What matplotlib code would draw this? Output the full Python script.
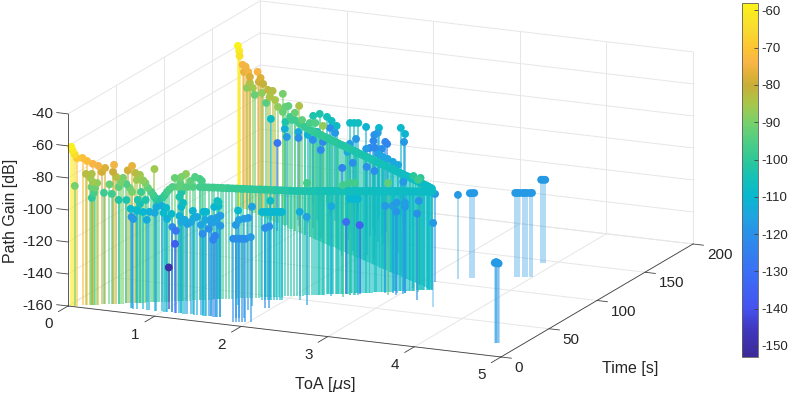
import numpy as np
import matplotlib
matplotlib.use('Agg')
import matplotlib.pyplot as plt
from matplotlib.colors import LinearSegmentedColormap, Normalize
from matplotlib.cm import ScalarMappable
from mpl_toolkits.mplot3d import proj3d
from mpl_toolkits.mplot3d.art3d import Line3DCollection

plt.rcParams['font.family'] = ['Liberation Sans', 'DejaVu Sans']

# rising branch, strongest paths first
ra_toa = [.03,.04,.06,.08,.13,.17,.22,.27,.33,.30,.41,.40,.43,.57,.53,.60,.64,.69,.71,.76,.79,.84,.88,.93,.98,1.06,1.11,.67,.74,.77,.81,.86,.90,1.02]
ra_time = [.7,1.2,1.7,2.2,3.4,4.5,6,7.2,8.9,8.1,11,10.8,11.5,15.3,14.4,16,17.2,18.4,19.2,20.3,21.3,22.5,23.7,24.9,26.3,28.5,29.9,18,19.9,20.8,21.9,23.1,24.2,27.4]
ra_gain = [-60.6,-63.1,-65.6,-68,-67.9,-69.9,-71.9,-73.3,-74.8,-77.2,-73.1,-77.5,-80.7,-74.3,-77,-78.7,-82,-85.3,-88.5,-93,-96.2,-95.1,-91.5,-88.5,-88.7,-89,-89.1,-83.7,-91,-94.5,-95.9,-93.5,-90,-88.8]
ra_level = [-59,-61,-64,-69,-71,-72,-74,-75,-78,-79,-75,-80,-83,-76,-79,-83,-87,-90,-93,-98,-102,-100,-97,-95,-93,-95,-95,-88,-96,-100,-101,-99,-96,-94]

# green paths under the rising branch
gr_toa = [.06,.16,.21,.20,.22,.26,.21,.24,.23,.21,.32,.37,.39,.45,.49,.47,.52,.55,.57,.61,.64,.65,.77,.45,.52,.62,.69,.64,.61,.95,1.01,1.05,1.09,1.13,1.17,1.19,1.0,1.01,.99,1.34,1.33,1.30,1.34]
gr_time = [1.7,4.3,5.8,5.3,6,6.9,5.5,6.5,6.2,5.8,8.6,9.8,10.5,12.2,13.2,12.7,13.9,14.8,15.3,16.5,17.2,17.5,20.6,12.2,13.9,16.8,18.7,17.2,16.3,25.6,27,28.2,29.2,30.4,31.6,32.1,26.8,27.3,26.8,35.9,35.6,35,36]
gr_gain = [-85.2,-78,-78.2,-80.6,-83.2,-84,-86.3,-87,-90.1,-93.2,-90.3,-85.1,-91.2,-87.1,-81.5,-84,-85.4,-88,-90.5,-83.2,-80.1,-90.8,-76.8,-95.2,-95.4,-95.7,-96,-98.3,-101.9,-83,-82.5,-80.8,-85.3,-82.9,-84.3,-85.6,-86.3,-92,-95,-99.2,-98.5,-102.2,-101.7]
gr_level = [-90,-83,-84,-86,-86,-88,-92,-92,-96,-100,-98,-92,-98,-93,-90,-90,-95,-91,-90,-86,-86,-98,-86,-102,-103,-103,-103,-105,-107,-92,-90,-88,-93,-95,-96,-96,-93,-103,-103,-105,-107,-110,-109]

# flat part of the rising branch
flat_toa = [1.17,1.20,1.22,1.25,1.28,1.30,1.33,1.36,1.38,1.41,1.43,1.46,1.49,1.51,1.54,1.56,1.59,1.62,1.64,1.67,
            1.70,1.72,1.75,1.77,1.80,1.83,1.85,1.88,1.90,1.93,1.96,1.98,2.01,2.04,2.06,2.09,2.11,2.14,2.17,2.19,
            2.22,2.24,2.27,2.30,2.32,2.35,2.38,2.40,2.43,2.45,2.48,2.51,2.53,2.56,2.58,2.61,2.64,2.66,2.69,2.72,
            2.74,2.77,2.79,2.82,2.85,2.87,2.90,2.92,2.95,2.98,3.00,3.03,3.06,3.08,3.11,3.13,3.16,3.19,3.21,3.24]
flat_time = [31.5,32.3,32.8,33.6,34.4,35.0,35.8,36.6,37.1,37.9,38.5,39.3,40.1,40.6,41.4,42.0,42.8,43.6,44.1,44.9,
             45.7,46.3,47.1,47.6,48.4,49.2,49.8,50.6,51.1,51.9,52.7,53.3,54.1,54.9,55.4,56.2,56.8,57.6,58.4,58.9,
             59.7,60.3,61.1,61.9,62.4,63.2,64.0,64.6,65.4,65.9,66.7,67.5,68.1,68.9,69.4,70.2,71.0,71.6,72.4,73.2,
             73.7,74.5,75.1,75.9,76.7,77.2,78.0,78.5,79.4,80.2,80.7,81.5,82.3,82.9,83.7,84.2,85.0,85.8,86.3,87.2]
flat_gain = [-89.3,-89.5,-89.6,-89.8,-90.0,-90.1,-90.3,-90.5,-90.6,-90.8,-90.9,-91.1,-91.3,-91.4,-91.6,-91.7,-91.9,-92.1,-92.2,-92.4,
             -92.5,-92.6,-92.8,-92.9,-93.1,-93.3,-93.4,-93.6,-93.7,-93.9,-94.1,-94.2,-94.4,-94.5,-94.6,-94.7,-94.8,-94.9,-95.0,-95.1,
             -95.2,-95.2,-95.3,-95.4,-95.5,-95.6,-95.7,-95.8,-95.9,-95.9,-96.0,-96.1,-96.2,-96.3,-96.4,-96.5,-96.6,-96.6,-96.7,-96.8,
             -96.9,-97.0,-97.1,-97.2,-97.3,-97.3,-97.4,-97.5,-97.6,-97.7,-97.8,-97.9,-98.0,-98.1,-98.2,-98.3,-98.4,-98.5,-98.7,-98.9]
flat_level = [-97,-97,-97,-97,-98,-98,-98,-98,-98,-99,-99,-99,-99,-99,-100,-100,-100,-100,-100,-100,
              -101,-101,-101,-101,-101,-102,-102,-102,-102,-102,-103,-103,-103,-103,-103,-103,-104,-104,-104,-104,
              -104,-104,-105,-105,-105,-105,-105,-105,-105,-106,-106,-106,-106,-106,-106,-106,-107,-107,-107,-107,
              -107,-107,-107,-107,-107,-107,-108,-108,-108,-108,-108,-108,-108,-108,-108,-108,-108,-108,-108,-108]

# the dense end of the flat part
dense_toa = [2.21,2.23,2.26,2.28,2.31,2.34,2.36,2.39,2.41,2.44,2.47,2.49,2.52,2.55,2.57,2.60,2.62,2.65,2.68,2.70,
             2.73,2.75,2.78,2.81,2.83,2.86,2.89,2.91,2.94,2.96,2.99,3.02,3.04,3.07,3.10,3.12,3.15,3.17,3.20,3.22]
dense_time = [59.4,60,60.8,61.3,62.1,62.9,63.5,64.3,64.8,65.6,66.4,67,67.8,68.6,69.1,69.9,70.5,71.3,72.1,72.6,
              73.4,74,74.8,75.6,76.1,76.9,77.7,78.3,79.1,79.6,80.4,81.2,81.8,82.6,83.4,83.9,84.7,85.3,86.1,86.6]
dense_gain = [-95.1,-95.2,-95.3,-95.3,-95.4,-95.5,-95.6,-95.7,-95.8,-95.9,-96,-96,-96.1,-96.2,-96.3,-96.4,-96.5,-96.6,-96.6,-96.7,
              -96.8,-96.9,-97,-97.1,-97.2,-97.3,-97.4,-97.4,-97.5,-97.6,-97.7,-97.8,-98,-98.1,-98.2,-98.3,-98.3,-98.4,-98.6,-98.8]
dense_level = [-105,-105,-105,-105,-105,-105,-105,-105,-105,-105,-106,-106,-106,-106,-106,-106,-106,-106,-106,-106,
               -107,-107,-107,-107,-107,-107,-107,-107,-107,-107,-108,-108,-108,-108,-108,-108,-108,-108,-108,-108]

# falling branch, second pass
rb_toa = [0,.02,.03,.08,.13,.17,.10,.20,.33,.38,.35,.42,.20,.15,.25,.28,.40,.50,.58,.53,.62,.47,.75,.67,.75,.84,.79,1.02,.95,.90,1.07,.79,1.20,1.12,.55,1.29,1.42,.87,.95,1.03,1.12]
rb_time = [177,176.5,176,174.7,173.3,172.4,174.2,171.4,167.7,166.3,167.2,165.4,171.4,172.8,170,169.1,165.9,163.1,160.8,162.2,159.8,164,156.1,158.4,156.1,153.8,155.2,148.7,150.5,151.9,147.3,155.2,143.6,145.9,161.7,141.3,137.6,152.8,150.6,148.4,145.9]
rb_gain = [-60,-62.9,-65.7,-70.5,-70.9,-73.6,-74.6,-76.1,-70.8,-73.8,-76.8,-77,-79.9,-83.8,-82.2,-86,-82.9,-79.4,-78.7,-83.3,-83.8,-88,-77.8,-87.3,-89.1,-84,-85.4,-81,-86.4,-91.6,-89,-94.8,-88.7,-92.5,-96.7,-87.3,-87,-90.3,-90.9,-92.1,-92.5]
rb_level = [-58,-60,-63,-74,-75,-75,-76,-78,-74,-78,-79,-81,-84,-88,-86,-92,-88,-82,-83,-84,-85,-94,-90,-88,-92,-93,-92,-84,-92,-97,-93,-103,-96,-100,-108,-95,-87,-97,-98,-98,-99]

cb_toa = [1.20,1.24,1.30,1.35,1.39,1.45,1.50,1.54,1.60,1.65,1.69,1.75,1.80,1.84,1.90,1.95,1.99,2.05,2.10,2.14,2.20,
          2.25,2.29,2.35,2.40,2.44,2.50,2.55,2.59,2.65,2.70,2.74,2.80,2.85,2.89,2.95,3.00,3.04,3.10,3.15,3.19,3.24,
          1.27,1.33,1.37,1.42,1.48,1.52,1.57,1.63,1.67,1.72,1.78,1.82,1.87,1.93,1.97,2.02,2.08,2.12,2.17,2.23,
          2.27,2.32,2.38,2.42,2.47,2.53,2.57,2.62,2.68,2.72,2.77,2.83,2.87,2.92,2.98,3.02,3.07,3.13,3.17,3.22]
cb_time = [143.6,142.5,140.9,139.5,138.4,136.7,135.3,134.2,132.5,131.1,130.0,128.4,127.0,125.8,124.2,122.8,121.7,120.0,118.6,117.5,115.8,
           114.5,113.3,111.7,110.3,109.2,107.5,106.1,105.0,103.3,101.9,100.8,99.2,97.8,96.7,95.0,93.6,92.5,90.8,89.4,88.3,86.9,
           141.7,140,138.9,137.5,135.9,134.7,133.4,131.7,130.6,129.2,127.5,126.4,125,123.3,122.2,120.8,119.2,118.1,116.7,115,
           113.9,112.5,110.8,109.7,108.3,106.7,105.6,104.2,102.5,101.4,100,98.3,97.2,95.8,94.2,93,91.7,90,88.9,87.5]
cb_gain = [-93.0,-93.1,-93.2,-93.3,-93.3,-93.4,-93.5,-93.6,-93.7,-93.8,-93.9,-93.9,-94.0,-94.1,-94.2,-94.3,-94.4,-94.5,-94.5,-94.6,-94.7,
           -94.8,-94.9,-95.0,-95.1,-95.1,-95.2,-95.3,-95.4,-95.5,-95.6,-95.7,-95.7,-95.8,-95.9,-96.0,-96.1,-96.2,-96.3,-96.4,-96.5,-96.7,
           -93.1,-93.2,-93.3,-93.4,-93.4,-93.5,-93.6,-93.7,-93.8,-93.9,-93.9,-94,-94.1,-94.2,-94.3,-94.4,-94.5,-94.5,-94.6,-94.7,
           -94.8,-94.9,-95,-95.1,-95.1,-95.2,-95.3,-95.4,-95.5,-95.6,-95.7,-95.7,-95.8,-95.9,-96,-96.1,-96.2,-96.3,-96.4,-96.6]
cb_level = [-99,-99,-99,-100,-100,-100,-100,-101,-101,-101,-101,-102,-102,-102,-102,-103,-103,-103,-103,-104,-104,
            -104,-104,-105,-105,-105,-105,-106,-106,-106,-106,-106,-107,-107,-107,-107,-107,-108,-108,-108,-108,-108,
            -99,-100,-100,-100,-100,-101,-101,-101,-101,-102,-102,-102,-102,-103,-103,-103,-103,-104,-104,-104,
            -104,-105,-105,-105,-105,-106,-106,-106,-106,-106,-107,-107,-107,-107,-107,-108,-108,-108,-108,-108]

# scattered paths behind the falling branch
rear_toa = [1.16,1.20,1.24,1.38,1.52,1.59,1.59,1.73,1.87,1.99,1.68,1.81,1.86,1.48,1.89,1.81,1.76,1.74,1.50,1.61,1.84,1.82,2.04,2.18,1.18,1.21,1.32,2.03,2.11,2.21,1.94,2.31,.69,.72,.84,.95,1.08,.63,.81,.95,.99,1.05,.79,.78,.91,1.08]
rear_time = [189.1,189.8,190.5,186,186.8,179.2,175.6,190.6,182.4,170.5,166.6,167.2,164.6,166.5,156.3,156.6,155.8,153.6,158.2,145.9,130.6,121.4,127.1,122.5,171.8,156.4,144.2,144.7,142.6,139.1,148.2,135.5,193.1,197.2,194,188.9,182.4,169,166.9,164.1,170.2,178.3,146.9,157.5,158,157.6]
rear_gain = [-105,-105,-105,-105,-105,-105,-105,-105,-105,-105,-105,-105,-105,-105,-105,-105,-105,-105,-105,-105,-105,-105,-105,-105,-105,-105,-105,-105,-105,-105,-105,-105,-105,-105,-105,-105,-105,-105,-105,-105,-105,-105,-105,-105,-105,-105]
rear_level = [-107,-107,-107,-112,-109,-116,-119,-109,-111,-118,-122,-123,-123,-118,-120,-122,-123,-117,-117,-114,-120,-124,-120,-120,-118,-122,-122,-115,-115,-114,-115,-114,-103,-103,-105,-107,-108,-112,-114,-112,-114,-120,-128,-118,-120,-120]

# scattered paths in front of the rising branch
front_toa = [.64,.71,.65,.67,.82,.78,.85,.93,.91,.99,1.04,1.01,1.10,1.05,1.11,1.15,1.14,1.02,1.21,1.23,1.19,1.21,1.28,1.34,1.35,1.39,1.46,1.49,1.43,1.48,1.55,1.65,1.60,1.65,1.45,1.52,1.59,1.57,1.25,1.32,1.55,1.61,
             1.77,1.80,1.83,1.86,1.88,1.91,1.94,1.96,1.85,2.53,2.57,2.61,2.84,2.91,2.98,2.95,3.03,3.03,1.62,1.77,1.80,1.84,1.81,1.89,1.93,1.97,1.85,1.88,1.91,1.94,1.97,2.02,2.13,2.28,2.37,2.48,2.61,
             2.50,2.53,2.58,2.90,3.03,3.13,3.14,3.03,2.12]
front_time = [7.6,7.7,7.6,7.6,8,7.9,8.1,8.2,8.2,8.4,8.5,8.4,8.6,8.5,8.6,8.7,8.7,13,8.9,8.9,8.8,8.9,9,9.2,9.2,9.3,9.4,9.5,9.4,9.5,9.6,9.9,9.7,9.9,9.4,9.6,9.7,9.6,8.9,9.1,9.6,9.8,
              42.5,43.1,43.6,44.1,44.6,45.2,45.7,46,43.9,65.2,65.9,66.6,74.3,75.7,73.2,76.3,77.7,77.7,31,32,25.4,12,11.5,12.9,31.2,31.9,5.1,5.6,6.1,6.6,7.1,8.2,49.2,43,60.5,66,68.4,
              61,65.2,66.1,71.8,86.5,84.9,81.5,75.9,57.7]
front_gain = [-97.9,-98.8,-102.9,-104.1,-103.8,-99.1,-98.6,-95.1,-98.9,-94.1,-95.1,-98.4,-98.5,-101.9,-106.6,-108.8,-117,-134,-93.5,-90.9,-99.3,-102.9,-103.8,-95.3,-99.6,-98.8,-95.2,-95.1,-103.5,-100.1,-99.1,-96.6,-100.7,-102.9,-109,-105.5,-109.5,-112,-101.4,-102.3,-101.6,-98.1,
              -105,-105,-105,-105,-105,-105,-105,-105,-98,-100,-100,-100,-105.6,-105.6,-108,-103.6,-103.6,-106,-101,-98,-102.5,-98.8,-101.9,-98,-110,-109,-108,-108,-108,-108,-108,-107,-105,-105,-104,-115,-117,
              -90,-90,-90,-90,-90,-90,-90,-90,-90]
front_level = [-109,-109,-118,-118,-113,-110,-112,-113,-114,-113,-109,-109,-109,-112,-122,-128,-137,-150,-110,-108,-112,-114,-116,-111,-113,-114,-110,-110,-115,-114,-116,-117,-116,-118,-120,-120,-124,-124,-114,-115,-117,-116,
               -110,-110,-110,-110,-110,-110,-110,-110,-108,-110,-110,-110,-118,-117,-119,-118,-117,-118,-109,-116,-118,-116,-118,-117,-120,-120,-120,-120,-120,-120,-120,-118,-113,-116,-114,-131,-135,
               -97,-97,-97,-93,-101,-101,-98,-118,-97]

# isolated late paths
far_toa = [3.14,3.53,3.26,3.03,3.31,3.41,3.43,3.45,3.83,3.85,3.87,3.90,3.92,3.94,3.97,3.99,3.85,3.87,3.89,4.71,4.72,4.73,4.74,4.75,4.73]
far_time = [99.1,61.9,69.5,92,107.6,111,111.5,112,120.4,120.8,121.1,121.7,122,122.4,122.9,123.4,145.6,145.9,146.2,19.7,19.8,19.9,20,20.1,19.6]
far_gain = [-105,-107.5,-106,-107.5,-107.5,-107,-107,-107,-107.5,-107.5,-107.5,-107.5,-107.5,-107.5,-107.5,-107.5,-108,-108,-108,-110,-109.7,-110,-110,-110.3,-109.4]
far_level = [-118,-118,-120,-119,-118,-118,-118,-118,-118,-118,-118,-118,-118,-118,-118,-118,-118,-118,-118,-118,-118,-118,-118,-118,-118]

toa_ticks = [0, 1, 2, 3, 4, 5]
time_ticks = [0, 50, 100, 150, 200]
gain_ticks = [-160, -140, -120, -100, -80, -60, -40]
bar_ticks = [-60, -70, -80, -90, -100, -110, -120, -130, -140, -150]

toa = np.array(ra_toa + gr_toa + flat_toa + dense_toa + rb_toa + cb_toa + rear_toa + front_toa + far_toa)
time = np.array(ra_time + gr_time + flat_time + dense_time + rb_time + cb_time + rear_time + front_time + far_time)
gain = np.array(ra_gain + gr_gain + flat_gain + dense_gain + rb_gain + cb_gain + rear_gain + front_gain + far_gain)
level = np.array(ra_level + gr_level + flat_level + dense_level + rb_level + cb_level + rear_level + front_level + far_level)

# colours
cmap = LinearSegmentedColormap.from_list('bar', [
    (0.00, '#3b2a98'), (0.08, '#4038c0'), (0.137, '#4553f0'), (0.242, '#3b70f5'),
    (0.347, '#2a90e8'), (0.40, '#1fa5e0'), (0.453, '#08b8cf'), (0.505, '#14c0b8'),
    (0.558, '#2fc898'), (0.611, '#4fce84'), (0.663, '#78d06c'), (0.716, '#a8c74a'),
    (0.768, '#c8ae38'), (0.80, '#e0b038'), (0.832, '#f8b545'), (0.874, '#fcc433'),
    (0.926, '#f9da30'), (1.00, '#fbf21a')])
norm = Normalize(-153, -58)

W, H = 789, 394
fig = plt.figure(figsize=(W / 100, H / 100), dpi=100)
ax = fig.add_axes([0.25, 0, 400 / W, 400 / H], projection='3d', computed_zorder=False)
ax.set_proj_type('ortho')
ax.view_init(elev=15.26, azim=-65.9)
ax.set_box_aspect((474, 470, 199))
ax.set_xlim(0, 5, view_margin=0)
ax.set_ylim(0, 200, view_margin=0)
ax.set_zlim(-160, -40, view_margin=0)
ax.set_axis_off()

# place the box so that its corners land where they are in the chart
def to_px(x, y, z):
    px, py, _ = proj3d.proj_transform(x, y, z, ax.get_proj())
    return ax.transData.transform((px, py))

ax.apply_aspect()
a = to_px(0, 0, -160)
c = to_px(5, 200, -160)
s = (693 - 68) / (c[0] - a[0])
bb = ax.get_position()
cx, cy = (bb.x0 + bb.width / 2) * W, (bb.y0 + bb.height / 2) * H
new_cx = 68 - s * (a[0] - cx)
new_cy = (H - 306) - s * (a[1] - cy)
side = 400 * s
ax.set_position([(new_cx - side / 2) / W, (new_cy - side / 2) / H, side / W, side / H])
ax.apply_aspect()

grid = dict(color='#e6e6e6', lw=0.7, zorder=1)
dark = dict(color='#404040', lw=0.6, zorder=4)
# floor
for v in toa_ticks:
    ax.plot([v, v], [0, 200], [-160, -160], **grid)
for v in time_ticks:
    ax.plot([0, 5], [v, v], [-160, -160], **grid)
# left and back walls
for v in gain_ticks:
    ax.plot([0, 0], [0, 200], [v, v], **grid)
    ax.plot([0, 5], [200, 200], [v, v], **grid)
for v in time_ticks:
    ax.plot([0, 0], [v, v], [-160, -40], **grid)
for v in toa_ticks:
    ax.plot([v, v], [200, 200], [-160, -40], **grid)

# axis lines and ticks, labels placed in pixels from the projection
def tick_label(x, y, z, txt, ha):
    p = to_px(x, y, z)
    fig.text(p[0] / W, p[1] / H, txt, ha=ha, va='center', fontsize=11, color='#262626')

ax.plot([0, 5], [0, 0], [-160, -160], **dark)
ax.plot([5, 5], [0, 200], [-160, -160], **dark)
ax.plot([0, 0], [0, 0], [-160, -40], **dark)
for v in toa_ticks:
    ax.plot([v, v], [0, -10], [-160, -160], **dark)
    tick_label(v, -20, -164.4, str(v), 'center')
for v in time_ticks:
    ax.plot([5, 5.12], [v, v], [-160, -160], **dark)
    tick_label(5.16, v, -165.9, str(v), 'left')
for v in gain_ticks:
    ax.plot([0, -0.13], [0, 0], [v, v], **dark)
    tick_label(-0.17, 0, v - 1.0, str(v), 'right')

# stems back to front, then the markers; the late isolated stems are paler
order = np.argsort(-(2.14 * time - 38.7 * toa))
rgba = cmap(norm(level[order]))
rgba[:, 3] = np.where(toa[order] > 3.3, 0.4, 0.68)
segs = [[(x, t, -160), (x, t, g)] for x, t, g in zip(toa[order], time[order], gain[order])]
ax.add_collection3d(Line3DCollection(segs, colors=rgba, linewidths=1.25, zorder=2))
ax.scatter(toa, time, gain, c=level, cmap=cmap, norm=norm, s=32, marker='o',
           edgecolors='none', depthshade=False, alpha=1, zorder=3)

fig.text(11 / W, 1 - 211 / H, 'Path Gain [dB]', rotation=90, ha='center', va='center', fontsize=11.5, color='#262626')
fig.text(325 / W, 1 - 384 / H, 'ToA [$\\mu$s]', ha='center', va='center', fontsize=11.5, color='#262626')
fig.text(630 / W, 1 - 368 / H, 'Time [s]', ha='center', va='center', fontsize=11.5, color='#262626')

cax = fig.add_axes([742 / W, 1 - 357 / H, 16 / W, 354 / H])
cb = fig.colorbar(ScalarMappable(norm=norm, cmap=cmap), cax=cax, ticks=bar_ticks)
cb.ax.tick_params(labelsize=9.5, direction='in', length=3, width=0.6, color='#404040', labelcolor='#262626', pad=2.5)
cb.outline.set_edgecolor('#606060')
cb.outline.set_linewidth(0.6)
cb.ax.set_yticklabels([str(v) for v in bar_ticks])

fig.savefig('out.png', dpi=100)
